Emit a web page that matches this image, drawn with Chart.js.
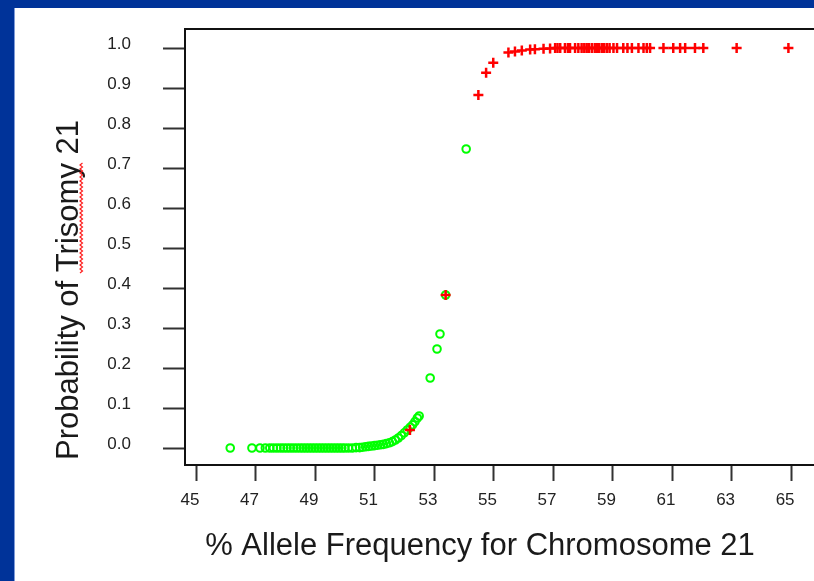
<!DOCTYPE html>
<html>
<head>
<meta charset="utf-8">
<script src="https://cdn.jsdelivr.net/npm/chart.js@4.4.0/dist/chart.umd.min.js"></script>
<style>
html, body { margin: 0; padding: 0; background: #003399; width: 814px; height: 581px; overflow: hidden; }
#painel { position: absolute; left: 14px; top: 8px; width: 799px; height: 573px; background: #fff; border-left: 1px solid #7f9bd8; }
#grafico { display: block; }
</style>
</head>
<body>
<div id="painel"><canvas id="grafico" width="799" height="573"></canvas></div>
<script>
// Amostras normais (círculos verdes)
const verdeX = [46.15, 46.88, 47.15, 47.33, 47.48, 47.6, 47.72, 47.84, 47.95, 48.06,
    48.17, 48.28, 48.39, 48.5, 48.6, 48.7, 48.8, 48.9, 49.0, 49.1,
    49.2, 49.3, 49.4, 49.5, 49.6, 49.7, 49.8, 49.9, 50.0, 50.12,
    50.25, 50.38, 50.5, 50.6, 50.7, 50.8, 50.9, 51.0, 51.1, 51.2,
    51.3, 51.4, 51.5, 51.6, 51.7, 51.8, 51.9, 52.0, 52.1, 52.2,
    52.28, 52.36, 52.44, 52.5, 52.87, 53.1, 53.2, 53.39, 54.08];
const verdeY = [0, 0, 0, 0, 0, 0, 0, 0, 0, 0,
    0, 0, 0, 0, 0, 0, 0, 0, 0, 0,
    0, 0, 0, 0, 0, 0, 0, 0, 0, 0,
    0, 0.001, 0.001, 0.002, 0.003, 0.004, 0.005, 0.006, 0.007, 0.008,
    0.009, 0.011, 0.013, 0.016, 0.02, 0.025, 0.031, 0.038, 0.045, 0.052,
    0.058, 0.066, 0.075, 0.08, 0.175, 0.2475, 0.285, 0.3825, 0.7475];

// Trissomia 21 (cruzes vermelhas)
const vermelhoX = [52.19, 53.39, 54.49, 54.75, 54.99, 55.5, 55.72, 55.95, 56.23, 56.39,
    56.68, 56.9, 57.07, 57.15, 57.24, 57.4, 57.5, 57.57, 57.74, 57.85,
    57.96, 58.05, 58.13, 58.2, 58.3, 58.4, 58.47, 58.55, 58.64, 58.72,
    58.81, 58.9, 59.03, 59.15, 59.36, 59.5, 59.65, 59.87, 60.04, 60.15,
    60.26, 60.71, 61.04, 61.27, 61.44, 61.77, 62.05, 63.17, 64.91];
const vermelhoY = [0.045, 0.3825, 0.8825, 0.938, 0.963, 0.989, 0.991, 0.994, 0.996, 0.997,
    0.998, 0.999, 1, 1, 1, 1, 1, 1, 1, 1,
    1, 1, 1, 1, 1, 1, 1, 1, 1, 1,
    1, 1, 1, 1, 1, 1, 1, 1, 1, 1,
    1, 1, 1, 1, 1, 1, 1, 1, 1];

const ticksX = [45, 47, 49, 51, 53, 55, 57, 59, 61, 63, 65];
const ticksY = [0.0, 0.1, 0.2, 0.3, 0.4, 0.5, 0.6, 0.7, 0.8, 0.9, 1.0];

const tituloX = '% Allele Frequency for Chromosome 21';
const tituloY = 'Probability of Trisomy 21';

const fonte = '"Liberation Sans", Arial, sans-serif';

// Moldura, títulos dos eixos e sublinhado do corretor
const moldura = {
    id: 'moldura',
    afterDraw(chart) {
        const { ctx, chartArea: a } = chart;
        ctx.save();
        ctx.strokeStyle = '#111';
        ctx.lineWidth = 2;
        ctx.beginPath();
        ctx.moveTo(chart.width, a.top);
        ctx.lineTo(a.left, a.top);
        ctx.lineTo(a.left, a.bottom);
        ctx.lineTo(chart.width, a.bottom);
        ctx.stroke();

        ctx.fillStyle = '#1a1a1a';
        ctx.font = '31px ' + fonte;
        ctx.textAlign = 'center';
        ctx.textBaseline = 'alphabetic';
        ctx.fillText(tituloX, 465, 547);

        ctx.translate(63, 282);
        ctx.rotate(-Math.PI / 2);
        ctx.fillText(tituloY, 0, 0);

        // linha ondulada vermelha sob "Trisomy"
        ctx.strokeStyle = '#ff2020';
        ctx.lineWidth = 1.2;
        ctx.beginPath();
        let alto = true;
        for (let x = 17; x <= 128; x += 2) {
            const y = alto ? 2 : 4.5;
            if (x === 17) ctx.moveTo(x, y); else ctx.lineTo(x, y);
            alto = !alto;
        }
        ctx.stroke();
        ctx.restore();
    }
};

const ctx = document.getElementById('grafico').getContext('2d');
const grafico = new Chart(ctx, {
    type: 'scatter',
    data: {
        datasets: [{
            label: 'Trisomy 21',
            data: vermelhoX.map((x, i) => ({ x: x, y: vermelhoY[i] })),
            pointStyle: 'cross',
            pointRadius: 5,
            borderColor: '#ff0000',
            borderWidth: 2.5
        }, {
            label: 'Normal',
            data: verdeX.map((x, i) => ({ x: x, y: verdeY[i] })),
            pointStyle: 'circle',
            pointRadius: 3.8,
            backgroundColor: 'rgba(0,0,0,0)',
            borderColor: '#00ff00',
            borderWidth: 2
        }]
    },
    options: {
        responsive: false,
        animation: false,
        devicePixelRatio: 1,
        layout: { autoPadding: false, padding: { top: 21, left: 0, right: 0, bottom: 0 } },
        plugins: {
            legend: { display: false },
            tooltip: { enabled: false }
        },
        scales: {
            x: {
                type: 'linear',
                min: 44.63,
                max: 65.77,
                afterBuildTicks: s => { s.ticks = ticksX.map(v => ({ value: v })); },
                afterFit: s => { s.height = 116; s.paddingLeft = 0; s.paddingRight = 0; },
                ticks: {
                    font: { family: fonte, size: 17 },
                    color: '#222',
                    padding: 9,
                    labelOffset: -6,
                    maxRotation: 0,
                    autoSkip: false,
                    callback: v => String(v)
                },
                grid: { drawOnChartArea: false, tickLength: 16, tickWidth: 2, tickColor: '#333' },
                border: { display: false }
            },
            y: {
                min: -0.0425,
                max: 1.0475,
                afterBuildTicks: s => { s.ticks = ticksY.map(v => ({ value: v })); },
                afterFit: s => { s.width = 170; s.paddingTop = 0; s.paddingBottom = 0; },
                ticks: {
                    font: { family: fonte, size: 17 },
                    color: '#222',
                    padding: 32,
                    labelOffset: -3.5,
                    autoSkip: false,
                    callback: v => v.toFixed(1)
                },
                grid: { drawOnChartArea: false, tickLength: 22, tickWidth: 2, tickColor: '#333' },
                border: { display: false }
            }
        }
    },
    plugins: [moldura]
});
</script>
</body>
</html>
